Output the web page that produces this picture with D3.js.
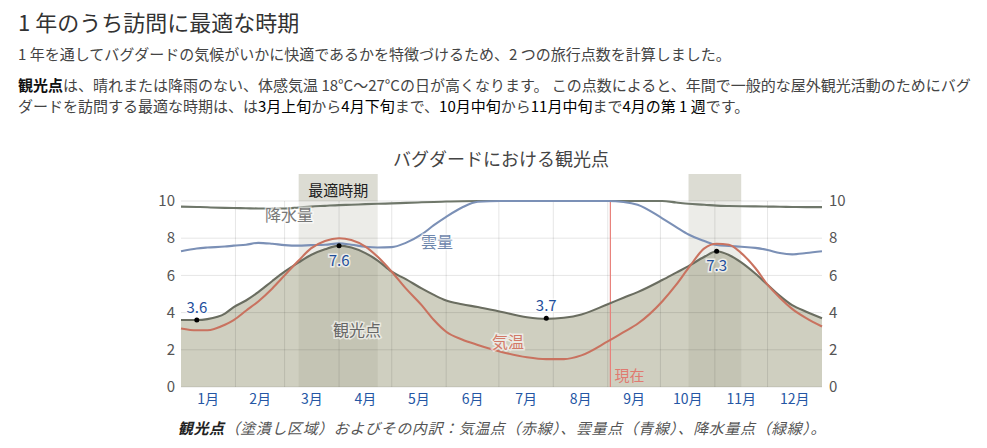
<!DOCTYPE html>
<html>
<head>
<meta charset="utf-8">
<script src="https://cdn.jsdelivr.net/npm/d3@7"></script>
<style>
  body { margin: 0; background: #fff; }
  svg { display: block; font-family: "Noto Sans CJK JP", "Noto Sans", sans-serif; }
</style>
</head>
<body>
<svg id="chart" width="987" height="448"></svg>
<script>
// day of year for each sample
var days = [0, 9, 15, 25, 30, 37, 44, 52, 59, 67, 74, 82, 90, 97, 105, 112, 120, 128, 137, 144,
            151, 160, 169, 182, 197, 208, 218, 228, 243, 252, 260, 274, 282, 289, 298, 305, 312,
            319, 327, 334, 341, 348, 356, 365];

var tourism = [3.6, 3.6, 3.65, 3.95, 4.3, 4.65, 5.1, 5.7, 6.2, 6.7, 7.1, 7.4, 7.6, 7.5, 7.2, 6.8,
               6.2, 5.8, 5.3, 4.95, 4.65, 4.45, 4.3, 4.05, 3.75, 3.66, 3.72, 3.9, 4.45, 4.8, 5.1,
               5.75, 6.15, 6.5, 7.0, 7.3, 7.1, 6.7, 6.1, 5.5, 4.9, 4.4, 4.05, 3.7];

var temperature = [3.15, 3.05, 3.05, 3.35, 3.6, 4.1, 4.6, 5.3, 6.0, 6.8, 7.45, 7.85, 8.0, 7.9, 7.55,
                   7.0, 6.2, 5.3, 4.4, 3.6, 2.97, 2.55, 2.26, 1.9, 1.6, 1.5, 1.5, 1.7, 2.45, 2.95,
                   3.4, 4.6, 5.5, 6.4, 7.45, 7.7, 7.65, 7.2, 6.4, 5.5, 4.8, 4.2, 3.7, 3.25];

var cloud = [7.3, 7.45, 7.5, 7.55, 7.6, 7.65, 7.75, 7.7, 7.63, 7.6, 7.63, 7.65, 7.72, 7.65, 7.54,
             7.5, 7.52, 7.75, 8.2, 8.7, 9.15, 9.65, 9.96, 10, 10, 10, 10, 10, 10, 9.95, 9.8, 9.07,
             8.6, 8.2, 7.85, 7.63, 7.58, 7.54, 7.48, 7.37, 7.2, 7.13, 7.2, 7.3];

var precipitation = [9.7, 9.68, 9.66, 9.63, 9.62, 9.61, 9.6, 9.6, 9.6, 9.65, 9.7, 9.74, 9.78, 9.8,
                     9.83, 9.85, 9.87, 9.9, 9.93, 9.95, 9.97, 9.99, 10, 10, 10, 10, 10, 10, 10,
                     10, 10, 10, 9.92, 9.85, 9.8, 9.75, 9.73, 9.72, 9.71, 9.7, 9.69, 9.68, 9.67, 9.67];

var monthNames = ["1月", "2月", "3月", "4月", "5月", "6月", "7月", "8月", "9月", "10月", "11月", "12月"];
var monthStarts = [0, 31, 59, 90, 120, 151, 181, 212, 243, 273, 304, 334, 365];
var yTicks = [0, 2, 4, 6, 8, 10];

var bestStart = [67, 289];
var bestEnd = [112, 319];
var nowDay = 244.5;

var peakDays = [9, 90, 208, 305];
var peakValues = [3.6, 7.6, 3.7, 7.3];
var peakAbove = [true, false, true, false];

var svg = d3.select("#chart");

var x = d3.scaleLinear().domain([0, 365]).range([181, 822]);
var y = d3.scaleLinear().domain([0, 10]).range([387, 201]);

var rows = days.map(function(d, i) {
  return { day: d, score: tourism[i], temp: temperature[i], cloud: cloud[i], rain: precipitation[i] };
});

// ---- heading text ----
var head = svg.append("g");
head.append("text")
  .attr("x", 18).attr("y", 31)
  .attr("font-size", 22).attr("fill", "#333")
  .text("1 年のうち訪問に最適な時期");

head.append("text")
  .attr("x", 18).attr("y", 60)
  .attr("font-size", 15).attr("fill", "#444")
  .text("1 年を通してバグダードの気候がいかに快適であるかを特徴づけるため、2 つの旅行点数を計算しました。");

var l3 = head.append("text").attr("x", 18).attr("y", 91).attr("font-size", 15).attr("fill", "#444");
l3.append("tspan").attr("font-weight", "bold").attr("fill", "#111").text("観光点");
l3.append("tspan").text("は、晴れまたは降雨のない、体感気温 18°C～27°Cの日が高くなります。 この点数によると、年間で一般的な屋外観光活動のためにバグ");

var l4parts = [
  ["ダードを訪問する最適な時期は、は", false],
  ["3月上旬", true], ["から", false], ["4月下旬", true], ["まで、", false],
  ["10月中旬", true], ["から", false], ["11月中旬", true], ["まで", false],
  ["4月の第 1 週", true], ["です。", false]
];
var l4 = head.append("text").attr("x", 18).attr("y", 112).attr("font-size", 15).attr("fill", "#444");
l4parts.forEach(function(p) {
  l4.append("tspan").attr("fill", p[1] ? "#000" : "#444").text(p[0]);
});

// ---- chart ----
svg.append("text")
  .attr("x", 501).attr("y", 166)
  .attr("text-anchor", "middle")
  .attr("font-size", 18).attr("fill", "#444")
  .text("バグダードにおける観光点");

var area = d3.area()
  .x(function(d) { return x(d.day); })
  .y0(y(0))
  .y1(function(d) { return y(d.score); })
  .curve(d3.curveMonotoneX);

svg.append("path")
  .datum(rows)
  .attr("d", area)
  .attr("fill", "#cfcfc0");

// best period bands
bestStart.forEach(function(s, i) {
  svg.append("rect")
    .attr("x", x(s)).attr("y", y(10))
    .attr("width", x(bestEnd[i]) - x(s)).attr("height", y(0) - y(10))
    .attr("fill", "rgb(150,150,125)").attr("fill-opacity", 0.18);
  svg.append("rect")
    .attr("x", x(s)).attr("y", 174)
    .attr("width", x(bestEnd[i]) - x(s)).attr("height", y(10) - 174)
    .attr("fill", "#dcdcd3");
});
svg.append("text")
  .attr("x", (x(bestStart[0]) + x(bestEnd[0])) / 2).attr("y", 196)
  .attr("text-anchor", "middle")
  .attr("font-size", 15).attr("fill", "#222")
  .text("最適時期");

// grid
svg.append("g").selectAll("line.h")
  .data(yTicks).enter().append("line")
  .attr("x1", x(0)).attr("x2", x(365))
  .attr("y1", function(d) { return y(d); }).attr("y2", function(d) { return y(d); })
  .attr("stroke", "#000").attr("stroke-opacity", 0.1);

svg.append("g").selectAll("line.v")
  .data(monthStarts.slice(1, 12)).enter().append("line")
  .attr("x1", function(d) { return x(d); }).attr("x2", function(d) { return x(d); })
  .attr("y1", y(10)).attr("y2", y(0))
  .attr("stroke", "#000").attr("stroke-opacity", 0.1);

// axes labels
[["end", 175], ["start", 829]].forEach(function(a) {
  svg.append("g").selectAll("text")
    .data(yTicks).enter().append("text")
    .attr("x", a[1]).attr("y", function(d) { return y(d); })
    .attr("dy", "0.35em")
    .attr("text-anchor", a[0])
    .attr("font-size", 15).attr("fill", "#555")
    .text(function(d) { return d; });
});

svg.append("g").selectAll("text")
  .data(monthNames).enter().append("text")
  .attr("x", function(d, i) { return x((monthStarts[i] + monthStarts[i + 1]) / 2); })
  .attr("y", 404)
  .attr("text-anchor", "middle")
  .attr("font-size", 14).attr("fill", "#2456a4")
  .text(function(d) { return d; });

// now line
svg.append("line")
  .attr("x1", x(nowDay)).attr("x2", x(nowDay))
  .attr("y1", y(10)).attr("y2", y(0))
  .attr("stroke", "#e8807a").attr("stroke-width", 1.2);
svg.append("text")
  .attr("x", x(nowDay) + 4).attr("y", 381)
  .attr("font-size", 15).attr("fill", "#e07a70")
  .text("現在");

// lines
function line(key) {
  return d3.line()
    .x(function(d) { return x(d.day); })
    .y(function(d) { return y(d[key]); })
    .curve(d3.curveMonotoneX);
}
var series = [
  ["score", "#6a6d60"],
  ["rain", "#6f776a"],
  ["cloud", "#7b90b6"],
  ["temp", "#c9725f"]
];
series.forEach(function(s) {
  svg.append("path")
    .datum(rows)
    .attr("d", line(s[0]))
    .attr("fill", "none")
    .attr("stroke", s[1])
    .attr("stroke-width", 2.1)
    .attr("stroke-linejoin", "round");
});

// series labels
var labels = [
  ["降水量", 289, 221, "#777"],
  ["雲量", 437, 248, "#7088ad"],
  ["観光点", 357, 336, "#666"],
  ["気温", 508, 348, "#d27a68"]
];
labels.forEach(function(l) {
  svg.append("text")
    .attr("x", l[1]).attr("y", l[2])
    .attr("text-anchor", "middle")
    .attr("font-size", 16).attr("fill", l[3])
    .attr("stroke", "#fff").attr("stroke-width", 3).attr("stroke-opacity", 0.6)
    .attr("paint-order", "stroke")
    .text(l[0]);
});

// peaks
peakDays.forEach(function(d, i) {
  var cx = x(d), cy = y(peakValues[i]);
  svg.append("circle").attr("cx", cx).attr("cy", cy).attr("r", 2.5).attr("fill", "#000");
  svg.append("text")
    .attr("x", cx).attr("y", peakAbove[i] ? cy - 7 : cy + 20)
    .attr("text-anchor", "middle")
    .attr("font-size", 15).attr("fill", "#1f4f9c")
    .attr("stroke", "#fff").attr("stroke-width", 3).attr("stroke-opacity", 0.7)
    .attr("paint-order", "stroke")
    .text(peakValues[i].toFixed(1));
});

// caption
var cap = svg.append("text")
  .attr("x", 502).attr("y", 434)
  .attr("text-anchor", "middle")
  .attr("letter-spacing", 0.6)
  .attr("font-size", 15).attr("font-style", "italic").attr("fill", "#555");
cap.append("tspan").attr("font-weight", "bold").attr("fill", "#222").text("観光点");
cap.append("tspan").text("（塗潰し区域）およびその内訳：気温点（赤線）、雲量点（青線）、降水量点（緑線）。");
</script>
</body>
</html>
